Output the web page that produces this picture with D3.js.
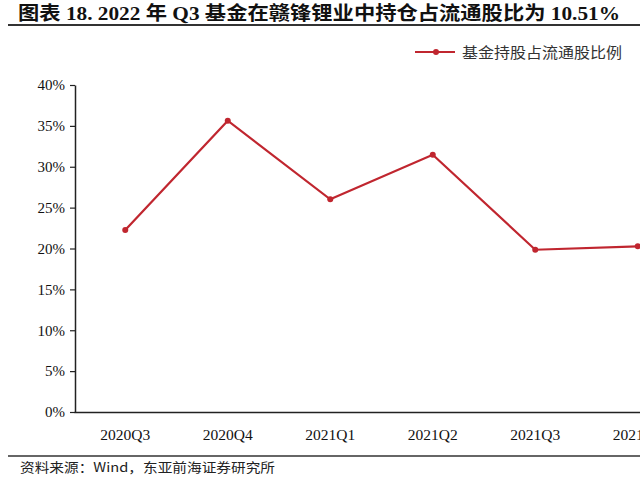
<!DOCTYPE html>
<html><head><meta charset="utf-8">
<script src="https://cdn.jsdelivr.net/npm/d3@7"></script>
<style>
html,body{margin:0;padding:0;background:#fff;}
svg{display:block;}
</style></head>
<body>
<svg id="c" width="640" height="478"></svg>
<script>
const categories = ["2020Q3","2020Q4","2021Q1","2021Q2","2021Q3","2021Q4"];
const values = [0.2226, 0.3563, 0.2602, 0.3147, 0.1985, 0.2027];
const yTicks = [0,0.05,0.10,0.15,0.20,0.25,0.30,0.35,0.40];
const seriesName = "基金持股占流通股比例";
const titleText = "图表 18. 2022 年 Q3 基金在赣锋锂业中持仓占流通股比为 10.51%";
const sourceText = "资料来源：Wind，东亚前海证券研究所";

const svg = d3.select("#c");
const red = "#c0262f";
const serif = "'Liberation Serif','Times New Roman',serif";
const cjk = "'Noto Sans CJK SC','Liberation Serif',serif";

// title
svg.append("text").attr("x",18).attr("y",20)
  .attr("font-family","'Liberation Serif','Noto Sans CJK SC',serif")
  .attr("font-weight","bold").attr("font-size",19).attr("fill","#111")
  .attr("textLength",602).attr("lengthAdjust","spacingAndGlyphs")
  .text(titleText);
svg.append("line").attr("x1",8).attr("x2",640).attr("y1",25).attr("y2",25)
  .attr("stroke","#333").attr("stroke-width",2);

// scales
const x = d3.scaleBand().domain(categories).range([74, 689]).padding(0);
const y = d3.scaleLinear().domain([0,0.4]).range([412, 85]);

// axes
const yAxis = svg.append("g").attr("transform","translate(75,0)")
  .call(d3.axisLeft(y).tickValues(yTicks).tickFormat(d3.format(".0%")).tickSize(5).tickSizeOuter(0).tickPadding(5));
yAxis.select(".domain").attr("stroke","#222").attr("stroke-width",1.5);
yAxis.selectAll(".tick line").attr("stroke","#222").attr("stroke-width",1.2);
yAxis.selectAll("text").attr("font-family",serif).attr("font-size",15).attr("fill","#111");

const xAxis = svg.append("g").attr("transform","translate(0,412)")
  .call(d3.axisBottom(x).tickSize(0).tickSizeOuter(0).tickPadding(17));
xAxis.select(".domain").attr("stroke","#222").attr("stroke-width",1.5);
xAxis.selectAll("text").attr("font-family",serif).attr("font-size",15.5).attr("fill","#111");

// line
const cx = d => x(d) + x.bandwidth()/2;
const data = categories.map((c,i)=>({c, v: values[i]}));
svg.append("path").datum(data)
  .attr("fill","none").attr("stroke",red).attr("stroke-width",2.2)
  .attr("d", d3.line().x(d=>cx(d.c)).y(d=>y(d.v)));
svg.selectAll("circle.pt").data(data).enter().append("circle")
  .attr("class","pt").attr("cx",d=>cx(d.c)).attr("cy",d=>y(d.v)).attr("r",3).attr("fill",red);

// legend
const lg = svg.append("g");
lg.append("line").attr("x1",415).attr("x2",455).attr("y1",52).attr("y2",52).attr("stroke",red).attr("stroke-width",2.2);
lg.append("circle").attr("cx",436).attr("cy",52).attr("r",3).attr("fill",red);
lg.append("text").attr("x",462).attr("y",57.5).attr("font-family",cjk).attr("font-size",15)
  .attr("fill","#333").attr("textLength",160).attr("lengthAdjust","spacingAndGlyphs").text(seriesName);

// footer
svg.append("line").attr("x1",8).attr("x2",640).attr("y1",456).attr("y2",456)
  .attr("stroke","#333").attr("stroke-width",1.5);
svg.append("text").attr("x",20).attr("y",472).attr("font-family",cjk).attr("font-size",13)
  .attr("fill","#222").attr("textLength",255).attr("lengthAdjust","spacingAndGlyphs").text(sourceText);
</script>
</body></html>
